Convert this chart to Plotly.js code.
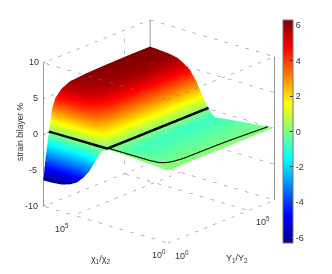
<!DOCTYPE html>
<html><head><meta charset="utf-8">
<script src="https://cdn.plot.ly/plotly-3.0.1.min.js"></script>
<style>html,body{margin:0;padding:0;background:#fff}#c{width:332px;height:274px}</style>
</head><body><div id="c"></div>
<script>
// log10 positions
const chiLog = [0,.05,.1,.2,.3,.4,.48,.53,.58,.63,.68,.73,.78,.85,.92,1].map(u=>u*6.6);
const yLog = [0,.02,.05,.08,.11,.17,.25,.4,.6,.8,1].map(v=>v*6.6);
// strain, rows follow chiLog, columns follow yLog
const strain = [
 [.1,.1,.1,.1,.1,.1,.12,.12,.14,.14,.14],
 [.15,.12,.1,.05,.02,0,0,0,0,0,0],
 [.25,.18,.1,.03,-.02,-.1,-.1,-.12,-.12,-.12,-.12],
 [.3,.2,.05,-.05,-.2,-.3,-.3,-.3,-.3,-.3,-.3],
 [.45,.3,.05,-.1,-.3,-.4,-.5,-.5,-.5,-.5,-.5],
 [.55,.35,.05,-.15,-.35,-.5,-.6,-.7,-.7,-.7,-.7],
 [.6,.4,.05,-.2,-.4,-.55,-.65,-.75,-.8,-.85,-.9],
 [.15,.1,0,0,0,0,0,0,0,0,0],
 [-1.5,-.6,0,.8,1.15,1.35,1.5,1.55,1.6,1.6,1.6],
 [-3.2,-1.6,0,1.7,2.4,2.9,3.2,3.3,3.35,3.4,3.4],
 [-4.4,-2.3,0,2.3,3.3,4.0,4.4,4.6,4.65,4.7,4.7],
 [-5.3,-2.8,0,2.6,3.8,4.6,5.05,5.25,5.35,5.35,5.35],
 [-5.8,-3.0,0,2.8,4.1,5.0,5.45,5.7,5.8,5.85,5.85],
 [-6.2,-3.2,0,2.95,4.3,5.25,5.7,5.95,6.05,6.1,6.1],
 [-6.35,-3.35,0,3.0,4.35,5.35,5.85,6.05,6.15,6.2,6.2],
 [-6.4,-3.4,0,3.0,4.4,5.4,5.95,6.15,6.25,6.3,6.3]
];
// zero-strain contour
const thickChi = [1,.8,.65,.53,.53,.53,.53].map(u=>u*6.6);
const thickY = [.05,.05,.05,.05,.2,.6,1].map(v=>v*6.6);
const thinChi = [.53,.42,.32,.186,.12,.089,.07,.057,.054,.05,.044,.03].map(u=>u*6.6);
const thinY = [.05,.05,.05,.05,.06,.086,.13,.207,.51,.63,.75,.97].map(v=>v*6.6);
const axisMax = 6.6;
const zTicks = [-10,-5,0,5,10];
const cbTicks = [-6,-4,-2,0,2,4,6];
const cbLabels = ['-6','-4','-2','0','2','4','6'];

const jet = [[0,'rgb(0,0,143)'],[.125,'rgb(0,0,255)'],[.375,'rgb(0,255,255)'],[.625,'rgb(255,255,0)'],[.875,'rgb(255,0,0)'],[1,'rgb(128,0,0)']];

// box and grid lines derived from axis ranges
function seg(arr,a,b){arr.x.push(a[0],b[0],null);arr.y.push(a[1],b[1],null);arr.z.push(a[2],b[2],null);}
const M=axisMax, dot={x:[],y:[],z:[]}, solid={x:[],y:[],z:[]};
[-10,10].forEach(z=>{
  seg(dot,[0,0,z],[M,0,z]); seg(dot,[0,0,z],[0,M,z]); seg(dot,[M,0,z],[M,M,z]); seg(dot,[0,M,z],[M,M,z]);
});
[-5,0,5].forEach(z=>{ seg(dot,[0,M,z],[M,M,z]); seg(dot,[M,0,z],[M,M,z]); });
[5].forEach(t=>{
  seg(dot,[t,0,-10],[t,M,-10]); seg(dot,[0,t,-10],[M,t,-10]);
  seg(dot,[t,M,-10],[t,M,10]);
});
seg(solid,[0,M,-10],[0,M,10]); seg(solid,[M,0,-10],[M,0,10]); seg(solid,[M,M,-10],[M,M,10]);
zTicks.forEach(z=>seg(solid,[0,M,z],[.12,M,z]));

const traces=[
 {type:'surface',x:yLog,y:chiLog,z:strain,colorscale:jet,cmin:-6.3,cmax:6.3,hoverinfo:'skip',
  lighting:{ambient:1,diffuse:0,specular:0,roughness:1,fresnel:0},
  colorbar:{x:283/332,xanchor:'left',xpad:0,ypad:0,y:1-20/274,yanchor:'top',len:223/274,lenmode:'fraction',
    thickness:10,thicknessmode:'pixels',outlinewidth:1,outlinecolor:'#777',borderwidth:0,
    tickvals:cbTicks,ticktext:cbLabels,ticks:'inside',ticklen:3,tickcolor:'#333',tickfont:{family:'Liberation Sans',size:9,color:'#333'}}},
 {type:'scatter3d',mode:'lines',x:dot.x,y:dot.y,z:dot.z,line:{color:'#777',width:1,dash:'dot'},showlegend:false,hoverinfo:'skip'},
 {type:'scatter3d',mode:'lines',x:solid.x,y:solid.y,z:solid.z,line:{color:'#777',width:1.5},showlegend:false,hoverinfo:'skip'},
 {type:'scatter3d',mode:'lines',x:thickY,y:thickChi,z:thickY.map(()=>.15),line:{color:'#000',width:5},showlegend:false,hoverinfo:'skip'},
 {type:'scatter3d',mode:'lines',x:thinY,y:thinChi,z:thinY.map(()=>.25),line:{color:'#000',width:2.2},showlegend:false,hoverinfo:'skip'}
];
const hidden={visible:false,range:[0,M]};
const f={family:'Liberation Sans',size:9,color:'#333'};
function note(t,x,y,extra){return Object.assign({text:t,x:x/332,y:1-y/274,xref:'paper',yref:'paper',showarrow:false,font:f,xanchor:'center',yanchor:'middle'},extra||{});}
const layout={width:332,height:274,margin:{l:0,r:0,t:0,b:0},paper_bgcolor:'#fff',showlegend:false,
 scene:{domain:{x:[0,318/332],y:[11/274,1]},
  xaxis:hidden,yaxis:hidden,zaxis:{visible:false,range:[-10,10]},
  aspectmode:'manual',aspectratio:{x:1.247,y:1.247,z:1.162},
  camera:{projection:{type:'orthographic'},up:{x:0,y:0,z:1},center:{x:0,y:0,z:0},eye:{x:-1.426,y:-1.222,z:.69}}},
 annotations:[
  note('10',34,62),note('5',35,98),note('0',35,134),note('-5',33,170),note('-10',31,206),
  note('10<sup>5</sup>',62,228),note('10<sup>0</sup>',159,254),
  note('10<sup>0</sup>',182,255),note('10<sup>5</sup>',263,221),
  note('χ<sub>1</sub>/χ<sub>2</sub>',100,259),note('Y<sub>1</sub>/Y<sub>2</sub>',237,258),
  note('strain bilayer %',20,132,{textangle:-90,font:{family:'Liberation Sans',size:8.5,color:'#333'}})
 ]};
Plotly.newPlot('c',traces,layout,{displayModeBar:false});
</script></body></html>
